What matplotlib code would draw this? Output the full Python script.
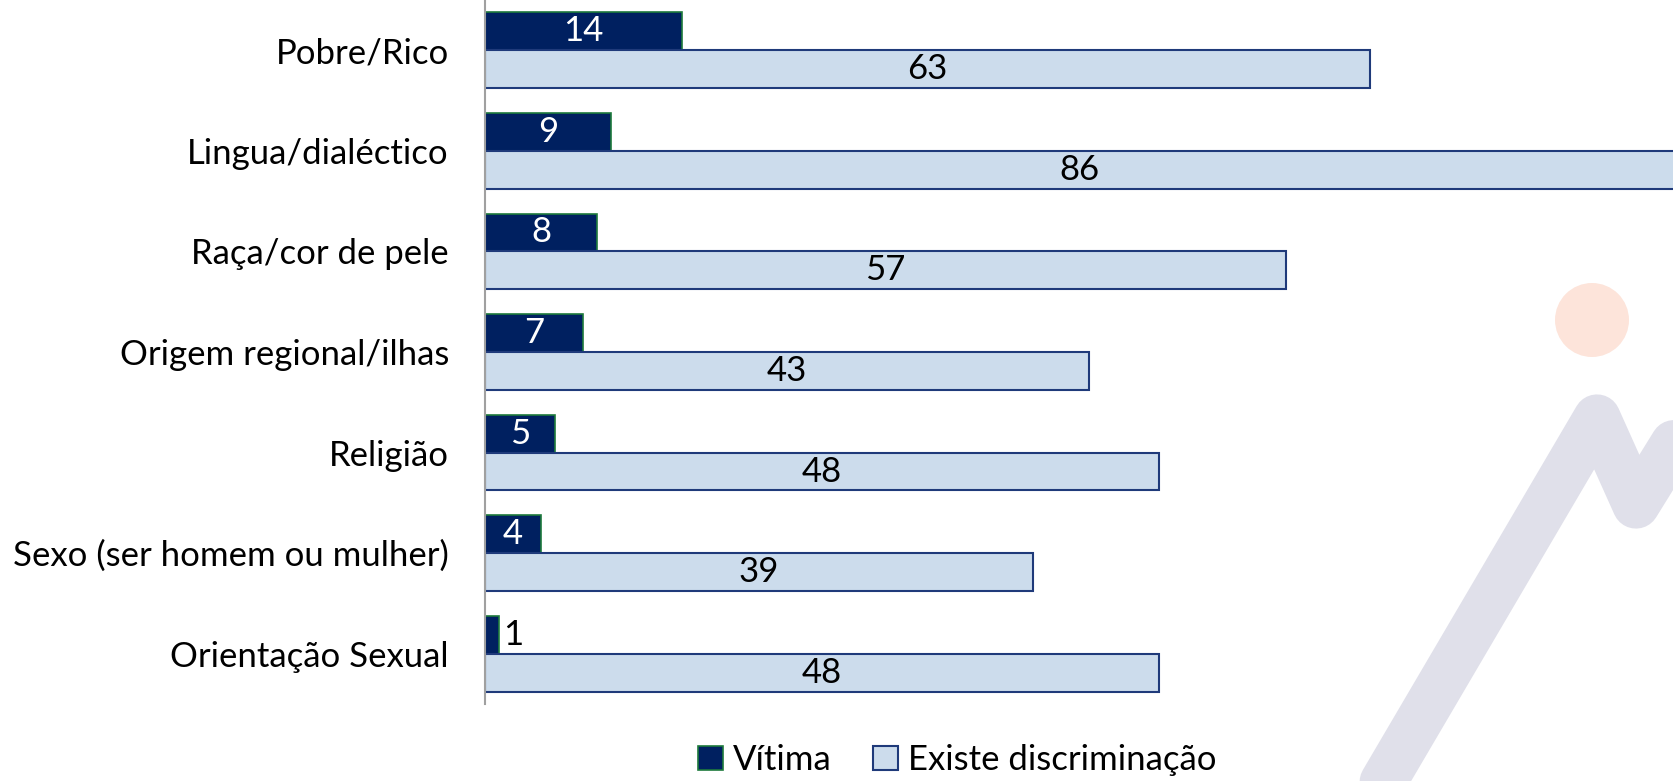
import matplotlib.pyplot as plt
import numpy as np
from matplotlib.lines import Line2D
from matplotlib.patches import Circle

categorias = ['Pobre/Rico', 'Lingua/dialéctico', 'Raça/cor de pele',
              'Origem regional/ilhas', 'Religião', 'Sexo (ser homem ou mulher)',
              'Orientação Sexual']
vitima = [14, 9, 8, 7, 5, 4, 1]
existe = [63, 86, 57, 43, 48, 39, 48]

plt.rcParams['font.family'] = ['Lato', 'DejaVu Sans']
W, H = 1674, 781
fig = plt.figure(figsize=(W / 100, H / 100), dpi=100)


def inch(x, y):
    # pixel (from top-left) -> inches from bottom-left
    return x / 100, (H - y) / 100


# watermark logo in the background
fig.add_artist(Circle(inch(1592, 320), 0.37, transform=fig.dpi_scale_trans,
                      facecolor='#fde4da', edgecolor='none', zorder=0))
pts = [inch(1355, 830), inch(1597, 418), inch(1636, 505), inch(1763, 300)]
fig.add_artist(Line2D([p[0] for p in pts], [p[1] for p in pts],
                      transform=fig.dpi_scale_trans, color='#e0e0ea', lw=34,
                      solid_capstyle='round', solid_joinstyle='round', zorder=0))

ax = fig.add_axes([485 / W, 1 - 704 / H, 1 - 485 / W, 704 / H])
ax.patch.set_alpha(0)

y = np.arange(len(categorias))
h = 0.377
c1 = ax.barh(y - h / 2, vitima, height=h, color='#002060',
             edgecolor='#1e7a3c', linewidth=1.2, label='Vítima')
c2 = ax.barh(y + h / 2, existe, height=h, color='#ccdcec',
             edgecolor='#1f3a7a', linewidth=1.5, label='Existe discriminação')

fs = 25
ax.bar_label(c1, labels=[str(v) if v > 1 else '' for v in vitima],
             label_type='center', color='white', fontsize=fs)
ax.bar_label(c1, labels=['' if v > 1 else str(v) for v in vitima],
             label_type='edge', padding=3, color='black', fontsize=fs)
ax.bar_label(c2, label_type='center', color='black', fontsize=fs)

ax.set_xlim(0, (W - 485) / 14.05)
ax.set_ylim(len(categorias) - 0.5, -0.5)
ax.set_yticks(y)
ax.set_yticklabels(categorias, fontsize=fs)
ax.tick_params(axis='y', length=0, pad=26)
ax.set_xticks([])
for s in ['top', 'right', 'bottom']:
    ax.spines[s].set_visible(False)
ax.spines['left'].set_color('#a0a0a0')
ax.spines['left'].set_linewidth(1.5)

fig.legend(handles=[c1, c2], loc='center', bbox_to_anchor=(0.572, 0.027),
           ncol=2, frameon=False, fontsize=fs, handlelength=0.7,
           handleheight=0.7, handletextpad=0.3, columnspacing=1.2)

fig.savefig('out.png', dpi=100)
